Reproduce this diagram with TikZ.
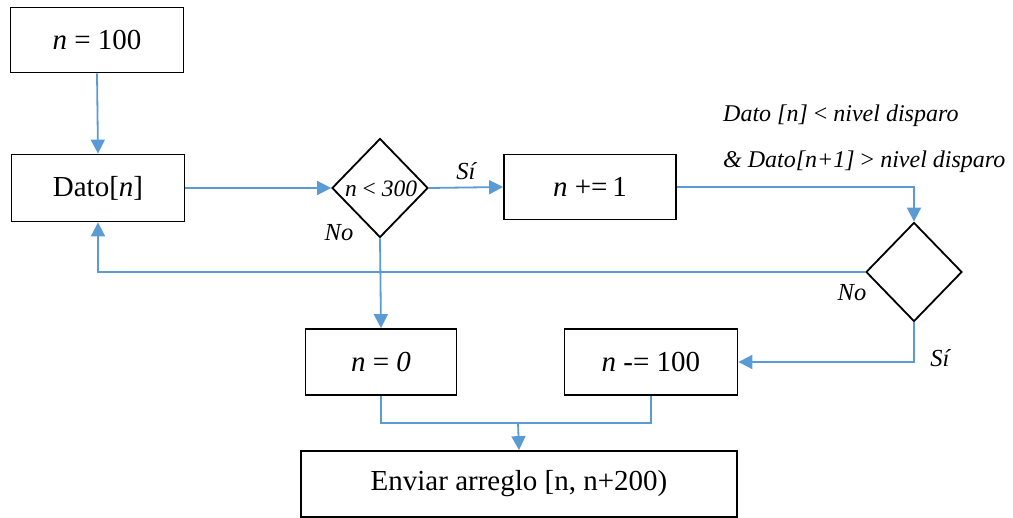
\documentclass[tikz,border=0pt]{standalone}
\usepackage{fontspec}
\setmainfont{Liberation Serif}
\usetikzlibrary{shapes.geometric,arrows.meta}
\definecolor{conn}{HTML}{5B9BD5}
\begin{document}
\begin{tikzpicture}[x=1pt,y=-1pt,
  box/.style={draw=black,line width=1.8pt,inner sep=0pt,font=\fontsize{29}{34}\selectfont},
  diam/.style={draw=black,line width=1.8pt,diamond,inner sep=0pt,minimum width=96pt,minimum height=99pt},
  conn/.style={draw=conn,line width=1.8pt},
  arr/.style={conn,-{Triangle[length=14pt,width=14pt]}},
  lbl/.style={font=\itshape\fontsize{24.5}{28}\selectfont,inner sep=0pt},
  cond/.style={font=\itshape\fontsize{24}{28}\selectfont,inner sep=0pt,anchor=west}]
\useasboundingbox (0,0) rectangle (1013,518);
\node[box,minimum width=173pt,minimum height=65pt] (init) at (97,40) {\textit{n} = 100};
\node[box,minimum width=173pt,minimum height=67pt] (dato) at (98,188) {Dato[\textit{n}]};
\node[diam] (d1) at (380,188) {};
\node[font=\itshape\fontsize{23.5}{26}\selectfont,inner sep=0pt] (d1t) at (381,189) {n {\upshape<} 300};
\node[box,minimum width=172pt,minimum height=65pt] (inc) at (590,187) {\textit{n} +=\,1};
\node[diam] (d2) at (914,272) {};
\node[box,minimum width=151pt,minimum height=66pt] (zero) at (381,362) {\textit{n} = \textit{0}};
\node[box,minimum width=173pt,minimum height=66pt] (dec) at (651,362) {\textit{n} -= 100};
\node[box,minimum width=436pt,minimum height=66pt] (env) at (519,484) {Enviar arreglo [n, n+200)};
\node[cond] (c1) at (723,116) {Dato [n] {\upshape<} nivel disparo};
\node[cond] (c2) at (723,162) {\& Dato[n+1] {\upshape>} nivel disparo};
\node[lbl] (si1) at (466,171) {Sí};
\node[lbl] (no1) at (339,233) {No};
\node[lbl] (no2) at (852,293) {No};
\node[lbl] (si2) at (940,358) {Sí};
\coordinate (j) at (518,423);
\draw[arr] (init.south) -- (dato.north);
\draw[arr] (dato.east) -- (d1.west);
\draw[arr] (d1.east) -- (inc.west);
\draw[arr] (inc.east) -| (d2.north);
\draw[arr] (d2.west) -| (dato.south);
\draw[arr] (d1.south) -- (zero.north);
\draw[arr] (d2.south) |- (dec.east);
\draw[conn] (zero.south) |- (j) -| (dec.south);
\draw[arr] (j) -- (env.north);
\end{tikzpicture}
\end{document}
